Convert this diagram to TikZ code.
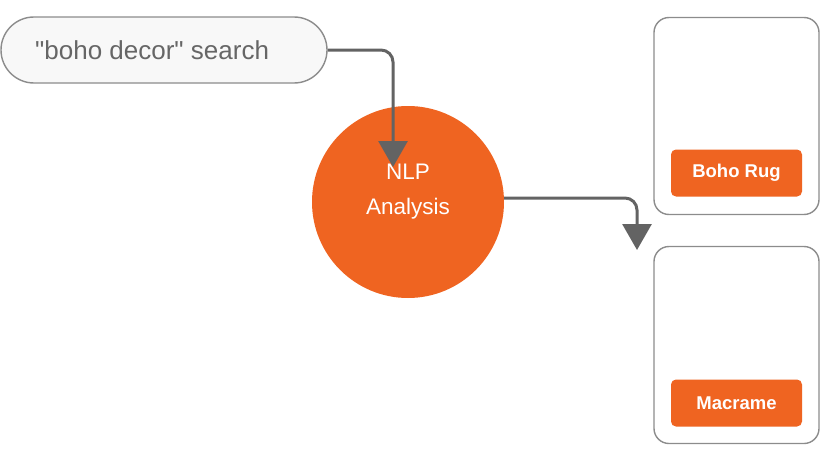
\documentclass[tikz,border=0pt]{standalone}
\usepackage{fontspec}
\setmainfont{Liberation Sans}
\newfontfamily\searchfont{Liberation Sans}[Ligatures=TeXOff]
\usetikzlibrary{arrows.meta}
\definecolor{orng}{HTML}{EF6421}
\definecolor{edge}{HTML}{8C8C8C}
\definecolor{conn}{HTML}{636363}
\definecolor{pillfill}{HTML}{F8F8F8}
\definecolor{txtgray}{HTML}{666666}
\tikzset{
  pill/.style={draw=edge, line width=1.4pt, fill=pillfill, rounded corners=33pt,
    minimum width=326pt, minimum height=66pt, inner sep=0pt},
  card/.style={draw=edge, line width=1.4pt, fill=white, rounded corners=15pt,
    minimum width=165pt, minimum height=197pt, inner sep=0pt},
  btn/.style={fill=orng, rounded corners=5pt, minimum width=131pt, minimum height=47pt,
    inner sep=0pt, text=white, font=\fontsize{18.5}{22}\selectfont\bfseries},
  hub/.style={circle, fill=orng, minimum size=192pt, inner sep=0pt},
  conn/.style={draw=conn, line width=3pt, rounded corners=12pt,
    -{Triangle[length=26pt, width=29pt]}}
}
\begin{document}
\begin{tikzpicture}[x=1pt, y=-1pt]
\useasboundingbox (0,0) rectangle (830,455);
\node[pill] (search) at (164,50) {};
\node[text=txtgray, font=\searchfont\fontsize{26}{30}\selectfont, anchor=west, inner sep=0pt] (stext) at (35,50) {"boho decor" search};
\node[hub] (nlp) at (408,202) {};
\node[text=white, align=center, font=\fontsize{22.5}{35}\selectfont] (nlptext) at (408,192) {NLP\\Analysis};
\node[card] (c1) at (736.5,116) {};
\node[card] (c2) at (736.5,345) {};
\node[btn] (b1) at (736.5,173) {Boho Rug};
\node[btn] (b2) at (736.5,403) {Macrame};
\coordinate (t1) at (393,167);
\coordinate (t2) at (637,250);
\draw[conn] (search.east) -| (t1);
\draw[conn] (nlp.east |- 0,198) -| (t2);
\end{tikzpicture}
\end{document}
